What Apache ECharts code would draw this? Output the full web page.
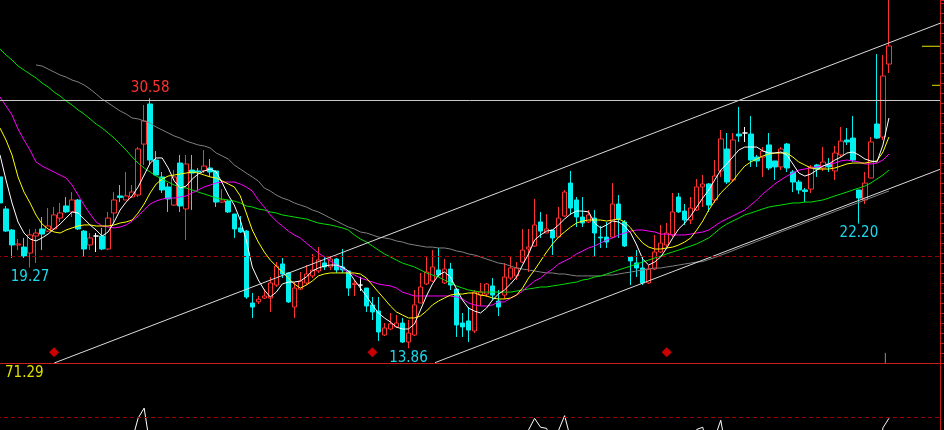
<!DOCTYPE html>
<html><head><meta charset="utf-8">
<script src="https://cdn.jsdelivr.net/npm/echarts@6/dist/echarts.min.js"></script>
<style>html,body{margin:0;padding:0;background:#000;}#c{width:944px;height:430px;}</style>
</head><body><div id="c"></div>
<script>
// ---- candles (k = 0..148) ----
const opens=[25.32,23.18,21.77,20.77,20.63,20.23,21.37,21.84,21.70,21.84,
22.57,23.38,22.98,23.78,21.70,20.77,21.37,21.37,20.50,22.91,
24.05,23.78,23.98,24.11,27.52,30.20,26.45,25.32,24.65,23.44,
26.25,23.18,25.78,25.72,25.74,25.92,25.72,23.64,23.71,22.84,
21.91,21.70,16.89,16.97,17.22,17.22,18.09,19.50,18.90,16.62,
17.82,18.23,18.70,19.03,19.57,19.30,19.83,19.30,19.03,18.13,
18.09,17.89,16.76,16.35,14.75,15.15,15.29,15.55,14.28,14.75,
16.89,18.16,18.36,19.10,18.23,19.16,17.82,15.55,15.69,15.02,
17.42,17.49,18.03,17.02,17.42,18.56,18.70,19.63,20.50,20.70,
22.31,21.57,21.77,21.30,22.71,24.91,23.78,22.64,22.31,22.57,
21.30,21.30,21.30,23.51,22.31,19.97,19.57,19.23,18.23,19.16,
20.30,20.77,21.44,23.98,23.04,22.44,23.11,24.65,24.85,23.78,
25.72,27.19,25.12,28.19,28.26,28.19,26.65,26.65,27.46,26.39,
25.99,27.52,25.65,24.98,24.45,24.51,26.12,25.92,26.19,25.72,
26.79,27.79,27.92,24.45,23.78,25.25,28.86,27.99,32.87];
const closes=[23.58,21.70,20.77,20.84,20.03,21.44,21.57,21.50,22.04,22.78,
22.91,22.98,23.78,21.84,20.50,21.24,21.37,20.50,22.57,23.78,
23.95,24.05,24.31,27.19,29.06,26.45,25.45,24.45,23.85,25.32,
23.38,26.19,25.58,25.65,26.05,25.65,23.64,23.78,22.98,21.84,
21.64,17.29,16.62,17.14,17.36,18.23,19.36,18.83,16.96,17.89,
18.36,18.83,19.10,19.77,19.30,19.83,19.10,19.10,17.89,18.21,
18.09,16.69,16.29,14.95,15.22,15.49,15.55,14.28,14.88,16.76,
17.96,18.96,19.30,18.76,19.16,18.09,15.42,15.29,15.08,17.62,
17.62,18.16,17.42,16.62,18.63,19.23,19.23,20.43,20.63,22.11,
21.70,21.84,21.24,22.57,24.31,23.24,22.64,22.24,22.78,21.57,
21.24,20.97,23.51,22.51,20.70,19.70,19.23,18.23,19.16,20.30,
20.90,21.57,22.98,22.98,22.44,23.24,24.65,24.85,23.44,25.38,
27.86,24.98,27.79,28.06,28.26,26.45,26.39,27.05,25.92,25.99,
27.19,25.92,24.98,24.45,24.35,25.99,25.85,26.32,25.99,26.92,
27.72,27.66,26.45,23.91,24.91,27.66,27.92,32.07,34.08];
const lows=[23.38,21.64,19.90,20.43,19.90,19.27,19.56,20.43,21.64,21.77,
22.31,22.91,22.64,21.77,19.97,20.43,20.30,20.43,20.43,22.17,
23.64,23.78,23.91,23.98,26.12,26.12,25.38,24.25,22.98,23.38,
22.98,21.10,23.11,24.45,25.58,25.32,23.31,23.58,22.91,21.24,
21.57,17.16,15.89,16.82,17.16,16.29,17.96,18.56,16.89,15.89,
17.76,18.09,18.56,18.90,19.10,19.10,18.90,18.90,17.36,17.36,
17.69,16.29,15.75,14.35,14.68,15.08,15.22,14.21,13.86,14.68,
16.89,18.09,18.29,18.63,18.16,17.76,14.62,14.62,14.28,14.88,
16.69,17.29,17.09,16.02,17.16,18.43,18.43,19.56,18.96,20.63,
21.24,21.57,20.10,21.30,22.64,22.78,21.97,21.97,22.24,19.97,
20.57,20.57,21.24,21.24,20.63,18.09,18.63,18.09,18.16,19.10,
20.23,20.63,21.30,22.91,22.11,22.17,23.04,23.31,22.98,23.58,
25.32,24.85,24.98,27.66,27.66,25.99,25.99,25.32,25.78,25.12,
25.78,25.65,24.31,24.18,23.64,24.25,25.32,25.72,25.65,25.12,
26.65,27.46,26.32,22.20,23.51,25.25,27.86,27.79,32.27];
const highs=[25.72,23.38,21.84,21.17,21.24,21.84,21.84,22.64,23.24,23.31,
23.58,23.98,24.31,23.85,21.77,21.57,21.57,21.91,22.98,24.31,
24.78,25.65,24.78,27.32,30.13,30.58,27.05,25.65,24.91,25.78,
26.79,26.79,26.79,25.92,27.12,26.52,25.78,24.51,23.78,22.84,
22.71,21.77,17.56,17.36,17.82,18.63,19.63,19.90,18.96,18.29,
18.96,19.43,20.17,20.63,19.97,20.03,19.90,20.50,19.03,18.43,
18.63,17.89,17.29,17.29,15.55,16.22,16.09,15.89,15.75,17.76,
18.90,19.97,20.43,20.57,19.83,19.57,17.82,16.22,16.62,17.76,
18.23,18.23,18.56,17.76,19.56,19.97,19.63,21.84,21.84,23.85,
22.98,22.84,21.77,23.31,24.45,25.72,23.98,23.98,23.11,23.11,
22.04,22.31,24.91,24.11,22.44,19.97,20.43,19.97,19.43,21.44,
22.11,22.24,24.25,24.25,23.51,23.98,25.18,25.45,24.91,26.45,
28.46,28.26,28.26,30.00,28.66,29.40,26.79,27.32,28.26,26.39,
27.32,27.59,25.78,25.12,24.58,26.12,26.19,27.32,26.59,27.39,
28.66,28.59,29.40,24.45,25.65,27.99,33.54,33.47,37.15];

// ---- moving averages ----
const ma5=[26.79,25.12,23.58,22.31,21.57,21.17,21.04,21.24,21.50,21.84,
22.17,22.57,22.98,22.91,22.51,22.11,21.77,21.37,21.64,22.31,
23.11,23.64,24.05,24.65,25.45,26.25,26.59,26.59,25.92,25.05,
24.58,24.71,25.18,25.52,25.72,25.85,25.65,24.92,24.11,23.44,
22.44,21.10,19.30,18.43,17.76,17.29,17.62,18.16,18.29,18.29,
18.36,18.63,19.03,19.23,19.36,19.43,19.43,19.30,19.03,18.43,
17.89,17.36,16.76,16.22,15.89,15.62,15.28,15.15,15.15,15.48,
16.42,17.36,18.16,18.76,18.96,18.63,17.83,17.09,16.55,16.35,
16.22,16.55,17.09,17.49,17.76,18.16,18.63,19.43,20.17,21.10,
21.44,21.70,21.77,22.11,22.51,22.84,23.04,23.04,22.98,22.24,
21.91,22.11,22.37,22.31,22.04,21.57,20.77,19.83,19.43,19.63,
19.97,20.57,21.24,21.84,22.24,22.71,23.31,23.91,24.45,25.12,
25.78,26.19,26.65,27.12,27.32,27.32,27.32,27.06,26.92,26.92,
26.99,26.79,26.19,25.58,25.38,25.52,25.78,26.05,26.19,26.45,
26.65,26.92,26.99,26.79,26.52,26.39,26.32,27.46,29.26];
const ma10=[28.59,27.79,26.79,25.32,24.31,23.58,22.77,22.17,21.84,21.64,
21.57,21.77,21.91,22.04,22.11,22.11,22.04,22.04,22.04,22.11,
22.24,22.31,22.44,22.91,23.51,24.25,24.85,25.18,25.38,25.45,
25.52,25.58,25.65,25.58,25.45,25.32,25.25,25.05,24.85,24.65,
24.05,22.91,21.77,20.97,20.30,19.76,19.36,18.96,18.56,18.16,
17.89,18.09,18.36,18.70,18.83,18.90,18.90,18.90,18.90,18.90,
18.83,18.56,18.09,17.62,17.16,16.69,16.29,16.09,15.89,15.89,
16.02,16.35,16.76,17.02,17.22,17.42,17.49,17.49,17.56,17.56,
17.42,17.36,17.22,17.16,17.16,17.22,17.42,17.89,18.56,19.10,
19.70,20.30,20.84,21.30,21.64,21.97,22.24,22.37,22.44,22.44,
22.44,22.37,22.44,22.51,22.31,21.91,21.37,20.90,20.63,20.50,
20.50,20.57,20.63,20.77,20.97,21.24,21.77,22.37,23.11,23.71,
24.25,24.65,25.05,25.58,26.05,26.32,26.52,26.72,26.85,26.92,
26.92,26.92,26.65,26.32,26.12,25.92,25.85,25.85,25.85,25.92,
26.05,26.19,26.25,26.25,26.25,26.32,26.39,26.99,27.99];
const ma20=[30.67,30.07,29.46,28.53,27.79,27.12,26.32,26.05,25.85,25.65,
25.45,25.25,24.78,24.11,23.44,22.84,22.31,22.04,21.97,21.91,
21.97,22.11,22.37,22.71,23.11,23.51,23.71,23.84,23.91,23.91,
23.98,24.05,24.25,24.45,24.65,24.78,24.92,24.98,24.98,24.98,
24.85,24.65,24.38,23.78,23.31,22.78,22.37,22.04,21.70,21.44,
21.24,20.90,20.57,20.23,19.97,19.70,19.43,19.16,18.96,18.76,
18.56,18.43,18.29,18.16,18.09,18.03,17.89,17.62,17.49,17.36,
17.36,17.36,17.36,17.36,17.36,17.36,17.29,17.16,16.89,16.76,
16.69,16.69,16.76,16.96,16.96,17.22,17.42,17.69,18.03,18.36,
18.56,18.90,19.16,19.50,19.70,19.90,20.17,20.37,20.57,20.70,
20.90,21.10,21.24,21.44,21.57,21.70,21.77,21.77,21.70,21.64,
21.50,21.50,21.44,21.44,21.44,21.50,21.57,21.64,21.77,22.04,
22.31,22.51,22.71,22.91,23.11,23.44,23.78,24.18,24.51,24.85,
25.12,25.38,25.58,25.78,25.85,25.92,25.99,26.05,26.19,26.25,
26.39,26.45,26.39,26.32,26.19,26.19,26.25,26.45,26.85];
const ma60=[33.88,33.48,33.14,32.74,32.47,32.20,31.94,31.60,31.34,31.00,
30.73,30.40,30.13,29.80,29.53,29.20,28.86,28.59,28.26,27.92,
27.52,27.12,26.65,26.25,25.92,25.65,25.38,25.18,24.98,24.78,
24.65,24.58,24.45,24.31,24.18,24.05,23.91,23.84,23.78,23.71,
23.58,23.38,23.31,23.18,23.11,22.98,22.91,22.78,22.71,22.64,
22.57,22.51,22.37,22.24,22.17,22.11,22.01,21.91,21.77,21.44,
21.17,20.97,20.70,20.43,20.17,19.97,19.76,19.56,19.43,19.30,
19.10,18.90,18.76,18.63,18.43,18.23,18.03,17.89,17.76,17.69,
17.62,17.62,17.62,17.62,17.62,17.62,17.69,17.76,17.83,17.89,
17.96,17.96,18.03,18.09,18.16,18.23,18.29,18.43,18.49,18.63,
18.70,18.83,18.96,19.10,19.23,19.36,19.50,19.63,19.76,19.90,
20.03,20.17,20.30,20.43,20.57,20.70,20.84,21.04,21.24,21.57,
21.91,22.17,22.37,22.57,22.78,22.91,23.04,23.18,23.31,23.38,
23.44,23.51,23.58,23.58,23.64,23.64,23.71,23.78,23.91,24.05,
24.18,24.31,24.45,24.58,24.71,24.92,25.18,25.45,25.78];
const ma120=[null,null,null,null,null,null,32.81,32.74,32.54,32.34,
32.14,32.00,31.80,31.67,31.47,31.20,30.87,30.53,30.27,30.00,
29.73,29.53,29.26,29.20,29.06,28.93,28.66,28.46,28.26,28.06,
27.92,27.72,27.59,27.46,27.39,27.26,26.92,26.72,26.52,26.12,
25.85,25.58,25.32,25.05,24.58,24.38,24.11,23.91,23.78,23.58,
23.44,23.31,23.11,22.98,22.78,22.57,22.37,22.17,21.97,21.84,
21.64,21.57,21.44,21.30,21.24,21.17,21.04,20.97,20.84,20.77,
20.70,20.63,20.63,20.57,20.57,20.50,20.37,20.30,20.17,20.10,
19.97,19.83,19.70,19.56,19.50,19.36,19.23,19.16,19.10,19.03,
18.96,18.90,18.90,18.83,18.83,18.76,18.70,18.70,18.70,18.70,
18.70,18.76,18.76,18.83,18.90,18.96,19.03,19.10,19.16,19.23,
19.23,19.30,19.36,19.43,19.50,19.56,19.63,19.66,19.80,19.93,
20.09,20.23,20.39,20.55,20.70,20.85,21.01,21.16,21.32,21.48,
21.64,21.79,21.94,22.09,22.25,22.40,22.55,22.71,22.85,23.01,
23.16,23.32,23.47,23.62,23.78,23.93,24.08,24.23,24.38];

// ---- lower indicator panel ----
const indicator=[62,58,55,52,50,48,47,50,53,55,57,58,60,56,50,48,47,46,52,58,63,66,
71.5,79.6,83.3,68.9,
64,60,57,55,56,58,60,59,57,55,54,56,55,52,50,46,40,38,36,35,37,40,38,36,37,39,41,43,45,46,48,47,44,42,40,38,36,34,32,30,29,30,33,36,39,42,45,44,42,40,43,46,50,53,55,57,58,60,62,64,66,69,
75.2,79.5,76.2,75.8,70,75.1,80.5,72,
68,66,64,62,61,60,62,63,61,58,55,52,50,52,55,58,61,63,65,
68,75.4,76.2,67.4,72.3,78.8,66.3,
63,61,60,62,64,63,61,58,56,55,54,56,58,60,62,61,59,57,56,58,60,62,65,67,
62,76.0,79.5];
const indicatorLevel=80;

// ---- reference lines / marks (in candle-index, price units) ----
const resistanceLevel=30.47;
const refLevel=19.99;
const upperChannel=[[9.04,12.88],[157.17,35.70]];
const lowerChannel=[[72.43,12.9],[156.5,25.83]];
const rightMarkA=[[153.5,34.06],[156.5,34.06]];
const rightMarkB=[[155.18,31.45],[156.5,31.45]];
const diamondIdx=[9,62,111];
const diamondPrice=13.59;
const smallTick=[[147.4,12.88],[147.4,13.55]];
const annIdx=[25,5,68,143];
const annVal=[30.58,19.27,13.86,22.20];
const annText=['30.58','19.27','13.86','22.20'];
const annPos=['top','bottom','bottom','bottom'];
const indicatorText='71.29';

const N=157;
const categories=Array.from({length:N},(_,i)=>'D'+(i+1));
const candles=opens.map((o,i)=>[o,closes[i],lows[i],highs[i]]);

const RED='#c81e1e', UP='#ff3232', DOWN='#00f0f0', TXTC='#1ed8ec';
const FONT='"Liberation Sans Narrow","DejaVu Sans Condensed","Liberation Sans",sans-serif';

const chart=echarts.init(document.getElementById('c'),null,{renderer:'canvas'});
const lineS=(data,color,extra)=>Object.assign({type:'line',data:data,xAxisIndex:0,yAxisIndex:0,symbol:'none',silent:true,
  lineStyle:{color:color,width:1},itemStyle:{color:color},z:3},extra||{});
const segS=(data,color,extra)=>Object.assign({type:'line',data:data,xAxisIndex:1,yAxisIndex:0,symbol:'none',silent:true,
  lineStyle:{color:color,width:1},z:4},extra||{});

chart.setOption({
  backgroundColor:'#000',
  animation:false,
  grid:[
    {left:-3,right:4,top:0,bottom:67,containLabel:false,outerBoundsMode:'none'},
    {left:-3,right:4,top:363,bottom:-203,containLabel:false,outerBoundsMode:'none'}
  ],
  xAxis:[
    {type:'category',gridIndex:0,data:categories,boundaryGap:true,
     axisLine:{show:true,lineStyle:{color:RED,width:1}},axisTick:{show:false},axisLabel:{show:false},splitLine:{show:false}},
    {type:'value',gridIndex:0,min:-0.5,max:N-0.5,show:false},
    {type:'category',gridIndex:1,data:categories,boundaryGap:true,show:false}
  ],
  yAxis:[
    {type:'value',gridIndex:0,min:12.877,max:37.154,show:false},
    {type:'value',gridIndex:0,position:'right',min:0,max:36.3,interval:1,
     axisLine:{show:true,lineStyle:{color:RED}},axisTick:{show:true,inside:false,length:4,lineStyle:{color:RED}},
     axisLabel:{show:false},splitLine:{show:false}},
    {type:'value',gridIndex:1,position:'right',min:0,max:100,
     axisLine:{show:true,lineStyle:{color:RED}},axisTick:{show:false},axisLabel:{show:false},splitLine:{show:false}}
  ],
  graphic:[{type:'text',left:5,top:366,style:{text:indicatorText,fill:'#e0e000',font:'15px '+FONT}}],
  series:[
    {type:'candlestick',xAxisIndex:0,yAxisIndex:0,data:candles,barWidth:5,silent:true,z:2,
     itemStyle:{color:'#000',color0:DOWN,borderColor:UP,borderColor0:DOWN,borderColorDoji:'#ffffff',borderWidth:1},
     markLine:{silent:true,symbol:'none',label:{show:false},animation:false,
       data:[{yAxis:resistanceLevel,lineStyle:{color:'#c8c8c8',type:'solid',width:1}},
             {yAxis:refLevel,lineStyle:{color:'#9a0000',type:[4,3],width:1}}]},
     markPoint:{silent:true,symbol:'circle',symbolSize:1,itemStyle:{color:'rgba(0,0,0,0)'},
       data:annIdx.map((k,i)=>({name:annText[i],coord:[k,annVal[i]],
         label:{show:true,formatter:'{b}',position:annPos[i],distance:2,fontSize:15,fontFamily:FONT,
                color:i===0?UP:TXTC}}))}
    },
    lineS(ma120,'#808080'),
    lineS(ma60,'#00e000'),
    lineS(ma20,'#ff00ff'),
    lineS(ma10,'#ffff00'),
    lineS(ma5,'#ffffff'),
    segS(upperChannel,'#dcdcdc',{clip:false}),
    segS(lowerChannel,'#dcdcdc',{clip:false}),
    segS(rightMarkA,'#e6e600',{lineStyle:{color:'#e6e600',width:1}}),
    segS(rightMarkB,'#e6e600',{lineStyle:{color:'#e6e600',width:1}}),
    segS(smallTick,'#909090'),
    {type:'scatter',xAxisIndex:0,yAxisIndex:0,silent:true,symbol:'diamond',symbolSize:[10,10],
     itemStyle:{color:'#ff0000'},data:diamondIdx.map(k=>[k,diamondPrice]),z:5},
    {type:'line',xAxisIndex:2,yAxisIndex:2,data:indicator,symbol:'none',silent:true,
     lineStyle:{color:'#ffffff',width:1},
     markLine:{silent:true,symbol:'none',label:{show:false},
       data:[{yAxis:indicatorLevel,lineStyle:{color:'#9a0000',type:[4,3],width:1}}]}}
  ]
});
</script>
</body></html>
